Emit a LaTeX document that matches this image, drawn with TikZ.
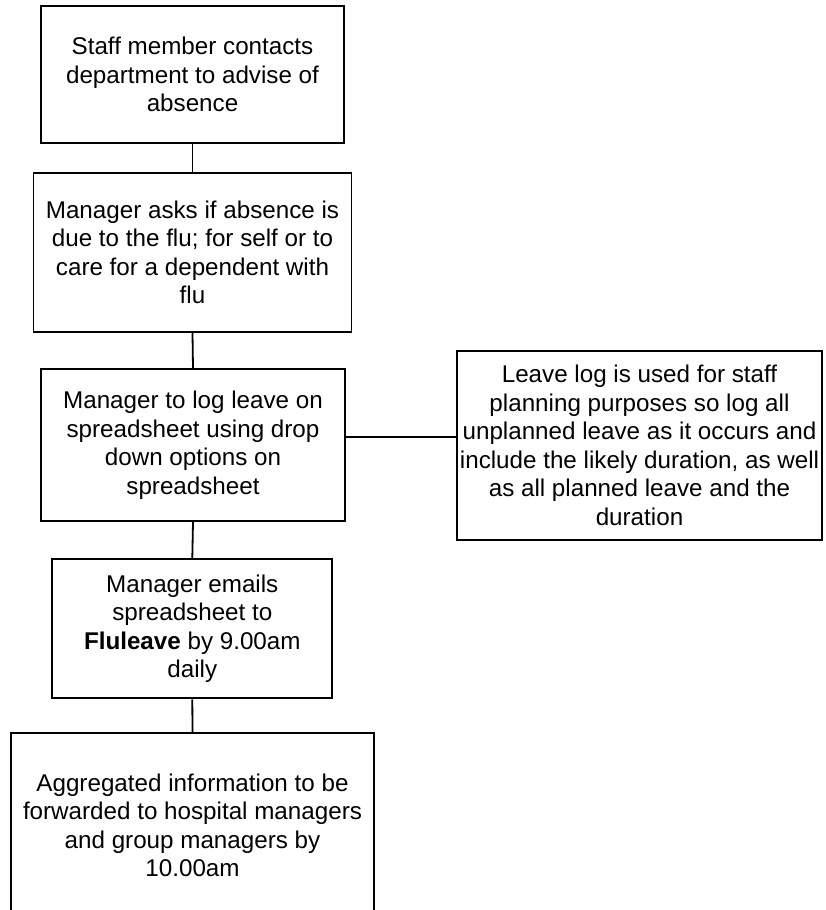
\documentclass[tikz,border=0pt]{standalone}
\usepackage{fontspec}
\setmainfont{Liberation Sans}
\begin{document}
\begin{tikzpicture}[x=1pt,y=-1pt,
  flowbox/.style={draw=black, line width=1.8pt, rectangle, inner sep=0pt,
    align=center, font=\fontsize{24.2}{28.5}\selectfont},
  link/.style={draw=black, line width=1.8pt}]
\useasboundingbox (0,0) rectangle (825,910);
\clip (0,0) rectangle (825,910);
\fill[white] (0,0) rectangle (825,910);
\node[flowbox, minimum width=303pt, minimum height=137pt] (b1) at (192.5,74.5)
  {Staff member contacts\\department to advise of\\absence};
\node[flowbox, minimum width=318pt, minimum height=159pt] (b2) at (192.5,252.2)
  {Manager asks if absence is\\due to the flu; for self or to\\care for a dependent with\\flu};
\node[flowbox, minimum width=304pt, minimum height=151.7pt] (b3) at (193,445.2)
  {Manager to log leave on\\spreadsheet using drop\\down options on\\spreadsheet};
\node[flowbox, minimum width=364.4pt, minimum height=189pt] (side) at (639.5,445.5)
  {Leave log is used for staff\\planning purposes so log all\\unplanned leave as it occurs and\\include the likely duration, as well\\as all planned leave and the\\duration};
\node[flowbox, minimum width=280pt, minimum height=139.3pt] (b4) at (192.3,628.7)
  {Manager emails\\spreadsheet to\\\textbf{Fluleave} by 9.00am\\daily};
\node[flowbox, minimum width=363pt, minimum height=185pt] (b5) at (192.5,825.3)
  {Aggregated information to be\\forwarded to hospital managers\\and group managers by\\10.00am};
\draw[link] (b1.south) -- (b2.north);
\draw[link] (b2.south) -- (b3.north);
\draw[link] ([yshift=8.5pt]b3.east) -- ([yshift=8.5pt]b3.east -| side.west);
\draw[link] (b3.south) -- (b4.north);
\draw[link] (b4.south) -- (b5.north);
\end{tikzpicture}
\end{document}
